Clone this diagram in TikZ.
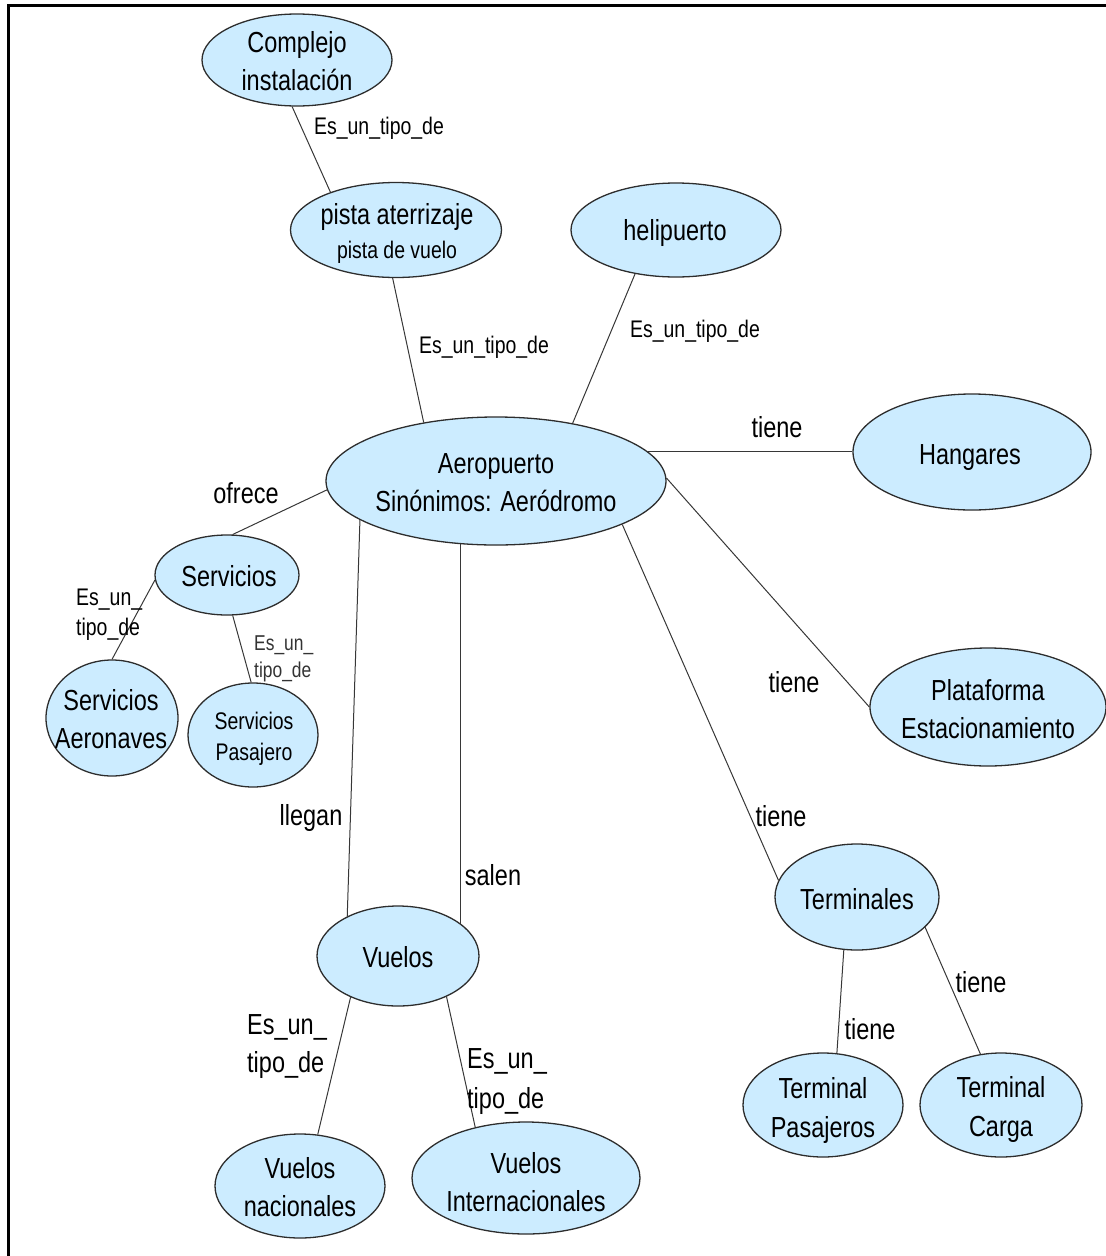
\documentclass[tikz,border=0pt]{standalone}
\usepackage{fontspec}
\setmainfont[FakeStretch=0.81]{Liberation Sans}
\usetikzlibrary{shapes.geometric}

\definecolor{bubblefill}{RGB}{204,236,255}
\definecolor{rim}{RGB}{45,45,45}
\definecolor{wire}{RGB}{55,55,55}

\newcommand\txtbig{\fontsize{29pt}{38pt}\selectfont}
\newcommand\txtmid{\fontsize{24pt}{30pt}\selectfont}
\newcommand\txtsmall{\fontsize{21.5pt}{27pt}\selectfont}

\begin{document}
\begin{tikzpicture}[x=1pt,y=-1pt,
  bubble/.style n args={2}{ellipse, draw=rim, line width=1.3pt, fill=bubblefill,
    inner sep=0pt, minimum width=#1, minimum height=#2},
  txt/.style={align=center, inner sep=0pt, font=\txtbig},
  tagbig/.style={inner sep=0pt, font=\txtbig},
  tagmid/.style={inner sep=0pt, font=\txtmid},
  tagsmall/.style={inner sep=0pt, font=\txtsmall, text=black!80},
  wire/.style={draw=wire, line width=1pt}]

\useasboundingbox (0,0) rectangle (1106,1256);

% outer frame (top and left edges)
\draw[line width=2.8pt] (8.5,1256) -- (8.5,5.5) -- (1106,5.5);

% concepts
\node[bubble={190pt}{92pt}]  (cplx) at (297,60)   {};
\node[bubble={211pt}{95pt}]  (pista) at (396,230) {};
\node[bubble={210pt}{94pt}]  (heli) at (676,230)  {};
\node[bubble={340pt}{128pt}] (aero) at (496,481)  {};
\node[bubble={238pt}{116pt}] (hang) at (972,452)  {};
\node[bubble={144pt}{80pt}]  (serv) at (227,575)  {};
\node[bubble={132pt}{116pt}] (saer) at (112,718)  {};
\node[bubble={130pt}{104pt}] (spas) at (253,735)  {};
\node[bubble={236pt}{118pt}] (plat) at (988,707)  {};
\node[bubble={164pt}{106pt}] (term) at (857,897)  {};
\node[bubble={162pt}{100pt}] (vue)  at (398,956)  {};
\node[bubble={160pt}{104pt}] (tpas) at (823,1105) {};
\node[bubble={162pt}{104pt}] (tcar) at (1001,1105){};
\node[bubble={170pt}{104pt}] (vnac) at (300,1186) {};
\node[bubble={228pt}{112pt}] (vint) at (526,1178) {};

% concept texts
\node[txt] (cplx-t) at (297,61) {Complejo\\instalación};
\node[txt] (pista-t) at (397,233) {pista aterrizaje\\[-4pt]{\txtmid pista de vuelo}};
\node[txt] (heli-t) at (675,233) {helipuerto};
\node[txt] (aero-t) at (496,483) {Aeropuerto\\Sinónimos: Aeródromo};
\node[txt] (hang-t) at (970,458) {Hangares};
\node[txt] (serv-t) at (229,576) {Servicios};
\node[txt] (saer-t) at (111,719) {Servicios\\Aeronaves};
\node[txt, font=\txtmid, text depth=0pt] (spas-t) at (254,736) {Servicios\\[1pt]Pasajero};
\node[txt] (plat-t) at (988,709) {Plataforma\\Estacionamiento};
\node[txt] (term-t) at (857,899) {Terminales};
\node[txt] (vue-t)  at (398,957) {Vuelos};
\node[txt] (tpas-t) at (823,1110) {Terminal\\[1pt]Pasajeros};
\node[txt] (tcar-t) at (1001,1109) {Terminal\\[1pt]Carga};
\node[txt] (vnac-t) at (300,1187) {Vuelos\\nacionales};
\node[txt] (vint-t) at (526,1182) {Vuelos\\Internacionales};

% links
\draw[wire] (cplx.264) -- (pista.150);
\draw[wire] (pista.266) -- (aero.141);
\draw[wire] (heli.227) -- (aero.37);
\draw[wire] (aero.11) -- (aero.11 -| hang.west);
\draw[wire] (aero.1) -- (plat.west);
\draw[wire] (aero.341) -- (term.168);
\draw[wire] (aero.183) -- (serv.82);
\draw[wire] (serv.184) -- (saer.north);
\draw[wire] (serv.278) -- (spas.92);
\draw[wire] (aero.196) -- (vue.142);
\draw[wire] (aero.241) -- (aero.241 |- vue.26);
\draw[wire] (vue.221) -- (vnac.71);
\draw[wire] (vue.320) -- (vint.135);
\draw[wire] (term.256) -- (tpas.75);
\draw[wire] (term.336) -- (tcar.112);

% link labels
\node[tagmid] (l1) at (379,128) {Es\_un\_tipo\_de};
\node[tagmid] (l2) at (484,347) {Es\_un\_tipo\_de};
\node[tagmid] (l3) at (695,331) {Es\_un\_tipo\_de};
\node[tagbig] (l4) at (777,427) {tiene};
\node[tagbig] (l5) at (246,493) {ofrece};
\node[tagmid, align=left, anchor=west] (l6) at (76,615) {Es\_un\_\\tipo\_de};
\node[tagsmall, align=left, anchor=west] (l7) at (254,659) {Es\_un\_\\tipo\_de};
\node[tagbig] (l8) at (794,682) {tiene};
\node[tagbig] (l9) at (781,816) {tiene};
\node[tagbig] (l10) at (311,818) {llegan};
\node[tagbig] (l11) at (493,875) {salen};
\node[tagbig, align=left, anchor=west] (l12) at (247,1047) {Es\_un\_\\tipo\_de};
\node[tagbig, align=left, anchor=west] (l13) at (467,1082) {Es\_un\_\\[2pt]tipo\_de};
\node[tagbig] (l14) at (870,1029) {tiene};
\node[tagbig] (l15) at (981,982) {tiene};

\end{tikzpicture}
\end{document}
